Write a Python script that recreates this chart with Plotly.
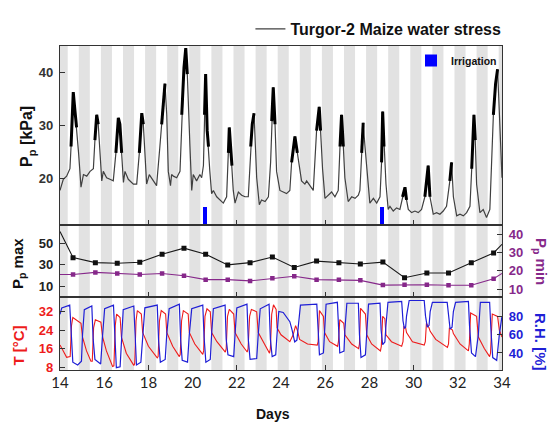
import plotly.graph_objects as go

# ---------------- data ----------------
# Turgor pressure of the Turgor-2 probe (days, kPa)
pp_t = [14.00, 14.15, 14.30, 14.38, 14.45, 14.50, 14.56, 14.60, 14.68, 14.75, 14.84, 14.90, 14.95,
        15.06, 15.21, 15.36, 15.51, 15.58, 15.66, 15.73, 15.81, 15.89, 15.96,
        16.11, 16.26, 16.41, 16.53, 16.64, 16.71, 16.79, 16.87, 16.94,
        17.09, 17.32, 17.47, 17.59, 17.70, 17.77, 17.85, 17.92,
        18.04, 18.22, 18.37, 18.52, 18.60, 18.75, 18.83, 18.87, 18.90, 19.00,
        19.05, 19.13, 19.28, 19.43, 19.51, 19.61, 19.69, 19.76, 19.88, 19.96,
        20.03, 20.18, 20.33, 20.41, 20.49, 20.54, 20.59, 20.66, 20.72, 20.78, 20.86, 20.94,
        21.09, 21.24, 21.39, 21.54, 21.62, 21.66, 21.72, 21.78, 21.84, 21.92,
        22.07, 22.22, 22.37, 22.52, 22.63, 22.70, 22.78, 22.84, 22.90,
        23.02, 23.12, 23.28, 23.43, 23.53, 23.58, 23.65, 23.73, 23.80, 23.95,
        24.10, 24.25, 24.40, 24.48, 24.56, 24.63, 24.74, 24.86, 24.93,
        25.08, 25.16, 25.31, 25.46, 25.61, 25.73, 25.79, 25.88, 25.99,
        26.14, 26.29, 26.44, 26.59, 26.67, 26.74, 26.82, 26.89,
        27.04, 27.20, 27.35, 27.50, 27.57, 27.65, 27.72, 27.80, 27.95,
        28.02, 28.18, 28.33, 28.48, 28.55, 28.60, 28.66, 28.75, 28.85, 28.93,
        29.08, 29.23, 29.38, 29.50, 29.61, 29.68, 29.76, 29.91,
        30.06, 30.21, 30.36, 30.51, 30.66, 30.74, 30.89,
        31.04, 31.19, 31.34, 31.49, 31.64, 31.72, 31.80, 31.95,
        32.10, 32.25, 32.40, 32.55, 32.63, 32.73, 32.79, 32.85,
        33.00, 33.15, 33.30, 33.45, 33.61, 33.71, 33.80, 33.88, 33.94, 34.00]
pp_v = [17.7, 19.8, 20.4, 21.3, 21.8, 26.0, 32.0, 36.3, 32.6, 29.6, 24.8, 21.3, 18.3,
        20.7, 20.4, 21.3, 21.8, 27.2, 32.0, 30.2, 24.8, 19.5, 21.3,
        20.1, 19.8, 19.5, 24.8, 31.4, 30.2, 24.8, 19.2, 21.3,
        19.8, 18.9, 18.9, 24.8, 32.3, 30.2, 23.6, 18.9,
        20.7, 19.5, 18.6, 26.0, 30.2, 37.9, 32.0, 26.0, 21.3, 18.6,
        20.7, 20.4, 20.1, 21.3, 32.0, 40.9, 44.6, 39.7, 26.0, 17.7,
        20.7, 19.5, 20.7, 20.1, 22.4, 32.0, 39.7, 29.0, 26.0, 21.3, 17.1, 17.7,
        16.5, 15.9, 15.3, 16.5, 24.8, 29.6, 26.0, 22.4, 17.7, 15.3,
        17.4, 16.8, 16.5, 16.5, 26.0, 30.2, 32.3, 27.2, 20.1,
        15.0, 15.9, 15.6, 16.5, 23.0, 30.8, 37.2, 30.2, 21.3, 17.7,
        17.4, 17.1, 17.7, 23.0, 26.0, 27.9, 24.8, 21.3, 19.5,
        18.9, 19.5, 18.6, 17.7, 29.0, 33.5, 29.0, 21.8, 16.2,
        16.8, 17.4, 16.5, 17.7, 26.0, 32.0, 26.0, 20.1,
        15.6, 16.5, 16.2, 16.8, 17.7, 24.8, 30.5, 26.0, 18.9,
        15.3, 16.2, 15.3, 16.5, 23.0, 32.6, 26.0, 18.9, 14.1, 14.7,
        13.8, 14.4, 14.1, 16.5, 18.3, 15.9, 14.1, 13.5,
        13.8, 13.5, 14.1, 16.5, 22.4, 16.5, 13.2,
        13.5, 13.2, 13.8, 14.7, 19.5, 23.0, 16.5, 12.9,
        13.2, 12.9, 13.5, 14.7, 21.8, 32.0, 27.2, 18.9,
        13.5, 14.1, 12.6, 14.1, 32.0, 37.9, 40.6, 32.0, 23.0, 20.1]

# irrigation events (days) and marker height (kPa)
irrig_day = [20.56, 28.57]
irrig_top = [14.5, 14.5]

# daily turgor extremes, plotted at the time of the daily peak
ext_day = [14.59, 15.60, 16.59, 17.61, 18.62, 19.61, 20.59, 21.59, 22.60, 23.61,
           24.60, 25.61, 26.62, 27.59, 28.61, 29.59, 30.60, 31.58, 32.61, 33.62]
pp_max = [36.7, 32.1, 31.5, 32.4, 39.9, 45.4, 39.9, 30.0, 32.1, 37.3,
          27.7, 33.5, 32.1, 30.9, 32.6, 18.2, 22.5, 22.5, 32.1, 41.0]
pp_min = [18.0, 19.2, 18.6, 18.0, 18.6, 17.3, 15.2, 15.2, 14.5, 15.9,
          17.1, 15.2, 15.2, 14.8, 12.2, 12.4, 12.4, 12.1, 12.1, 15.7]
# values where the lines leave the plotted window (days 14 and 34)
pp_max_edges = [60.8, 49.0]
pp_min_edges = [18.0, 18.6]

# air temperature (°C)
t_t = [14.00, 14.30, 14.46, 14.52, 14.58, 14.75, 14.95, 15.02, 15.20, 15.40,
       15.46, 15.52, 15.60, 15.85, 15.93, 16.10, 16.38,
       16.44, 16.50, 16.56, 16.72, 16.78, 17.00, 17.34,
       17.38, 17.44, 17.50, 17.68, 17.74, 18.00, 18.40,
       18.44, 18.50, 18.58, 18.78, 18.83, 19.10, 19.40,
       19.44, 19.50, 19.58, 19.80, 19.85, 20.10, 20.46,
       20.50, 20.56, 20.65, 20.80, 20.86, 21.10, 21.48,
       21.52, 21.58, 21.66, 21.86, 21.92, 22.20, 22.47,
       22.51, 22.58, 22.66, 22.90, 22.97, 23.20, 23.48,
       23.52, 23.58, 23.66, 23.78, 23.82, 24.00, 24.40,
       24.55, 24.66, 24.74, 24.84, 25.20, 25.64,
       25.68, 25.74, 25.92, 25.97, 26.20, 26.56,
       26.60, 26.66, 26.84, 26.89, 27.20, 27.51,
       27.55, 27.60, 27.82, 27.88, 28.10, 28.50,
       28.54, 28.60, 28.70, 28.75, 29.00, 29.46,
       29.52, 29.56, 29.64, 29.68, 29.95, 30.48,
       30.53, 30.58, 30.70, 30.75, 31.00, 31.53,
       31.58, 31.62, 31.76, 31.80, 32.10, 32.48,
       32.52, 32.58, 32.85, 32.93, 33.20, 33.44,
       33.48, 33.56, 33.80, 33.88, 34.00]
t_v = [17.6, 12.2, 12.5, 26.0, 29.5, 28.5, 27.0, 21.0, 15.0, 10.5,
       10.5, 25.0, 28.5, 27.5, 21.0, 15.0, 8.2,
       8.5, 26.0, 31.0, 29.5, 21.0, 14.0, 8.7,
       9.5, 28.0, 32.5, 31.0, 23.0, 17.0, 12.0,
       12.5, 28.0, 32.5, 31.0, 23.0, 17.0, 12.5,
       13.5, 28.0, 32.5, 31.0, 23.0, 18.0, 13.5,
       15.0, 30.0, 33.3, 32.0, 23.0, 19.0, 14.5,
       16.0, 30.0, 33.0, 31.0, 23.0, 18.0, 14.5,
       16.0, 30.0, 33.0, 32.0, 23.0, 19.0, 14.0,
       16.0, 31.0, 35.0, 33.0, 25.0, 22.0, 19.0,
       22.0, 26.0, 24.0, 20.0, 18.0, 17.5,
       19.0, 32.5, 30.0, 23.0, 19.0, 17.0,
       19.0, 28.6, 27.0, 22.0, 18.0, 16.0,
       18.0, 33.5, 31.0, 22.0, 18.0, 15.0,
       17.0, 30.0, 29.0, 22.0, 19.0, 17.0,
       19.0, 25.5, 25.0, 23.0, 19.0, 17.5,
       19.0, 27.0, 25.0, 23.5, 20.0, 16.5,
       18.0, 25.0, 24.0, 22.5, 18.0, 15.0,
       18.0, 31.5, 30.0, 21.0, 16.0, 12.5,
       14.0, 31.0, 30.0, 24.0, 21.0]

# relative humidity (%)
rh_t = [14.00, 14.08, 14.44, 14.52, 14.58, 14.80, 14.97, 15.02, 15.10, 15.44,
        15.50, 15.58, 15.84, 15.93, 16.02, 16.42, 16.48, 16.55, 16.72, 16.78,
        16.86, 17.34, 17.40, 17.46, 17.66, 17.74, 17.84, 18.40, 18.46, 18.54,
        18.76, 18.83, 18.94, 19.40, 19.46, 19.53, 19.77, 19.85, 19.96, 20.46,
        20.52, 20.60, 20.80, 20.86, 20.94, 21.47, 21.52, 21.60, 21.86, 21.92,
        22.00, 22.46, 22.52, 22.60, 22.90, 22.97, 23.06, 23.46, 23.52, 23.60,
        23.76, 23.82, 23.90, 24.10, 24.40, 24.50, 24.62, 24.72, 24.80, 24.88,
        25.62, 25.68, 25.74, 25.92, 25.97, 26.04, 26.55, 26.60, 26.66, 26.85,
        26.89, 26.98, 27.50, 27.55, 27.62, 27.82, 27.88, 27.96, 28.48, 28.53,
        28.60, 28.70, 28.75, 28.84, 29.46, 29.52, 29.58, 29.64, 29.68, 29.80,
        30.48, 30.54, 30.62, 30.70, 30.75, 30.85, 31.52, 31.58, 31.65, 31.74,
        31.80, 31.90, 32.48, 32.53, 32.62, 32.80, 32.93, 33.02, 33.44, 33.50,
        33.58, 33.76, 33.88, 34.00]
rh_v = [82, 89, 92, 55, 30, 27, 31, 60, 87, 91,
        55, 33, 28, 60, 88, 92, 50, 24, 25, 60,
        87, 91, 50, 27, 30, 60, 89, 92, 54, 30,
        33, 60, 88, 93, 54, 32, 30, 60, 88, 92,
        57, 30, 33, 60, 88, 92, 55, 38, 36, 60,
        89, 93, 55, 33, 34, 60, 88, 93, 55, 36,
        38, 60, 85, 84, 74, 65, 52, 54, 70, 92,
        93, 60, 38, 40, 65, 93, 95, 60, 40, 42,
        65, 94, 94, 60, 35, 38, 65, 93, 94, 65,
        49, 52, 70, 95, 96, 75, 67, 68, 80, 97,
        97, 80, 68, 70, 85, 95, 95, 78, 66, 68,
        85, 95, 96, 70, 40, 36, 60, 95, 95, 65,
        35, 32, 60, 80]

x_labels = list(range(14, 35, 2))
x_major = list(range(14, 35, 4))
night_days = list(range(14, 35))

# ---------------- styling ----------------
FONT = "Liberation Sans"
RED = "#ee1c1c"
BLUE = "#1f1fd6"
PURPLE = "#86288a"
AX = "#333333"

fig = go.Figure()

# Turgor time series: thin dark line, with the noisy daytime peaks drawn heavy
fig.add_trace(go.Scatter(x=pp_t, y=pp_v, mode="lines", name="Turgor-2 Maize water stress",
                         line=dict(color="#404040", width=1.2), xaxis="x", yaxis="y",
                         legend="legend"))
peak_x, peak_y = [], []
for t, v in zip(pp_t, pp_v):
    inside = False
    for tp, hi, lo in zip(ext_day, pp_max, pp_min):
        if abs(t - tp) <= 0.2 and v >= lo + 0.4 * (hi - lo):
            inside = True
    peak_x.append(t if inside else None)
    peak_y.append(v if inside else None)
fig.add_trace(go.Scatter(x=peak_x, y=peak_y, mode="lines", showlegend=False,
                         line=dict(color="black", width=3), connectgaps=False,
                         xaxis="x", yaxis="y", hoverinfo="skip"))

# irrigation markers
y_top_min = 11.07
fig.add_trace(go.Bar(x=irrig_day, y=[v - y_top_min for v in irrig_top], base=y_top_min,
                     width=0.17, marker=dict(color="#0000ff", line=dict(width=0)),
                     name="Irrigation", xaxis="x", yaxis="y", legend="legend2"))

# daily maximum / minimum
fig.add_trace(go.Scatter(x=[14.0] + ext_day + [34.0], y=[pp_max_edges[0]] + pp_max + [pp_max_edges[1]],
                         mode="lines", line=dict(color="#1a1a1a", width=1.1),
                         showlegend=False, xaxis="x2", yaxis="y2"))
fig.add_trace(go.Scatter(x=ext_day, y=pp_max, mode="markers",
                         marker=dict(symbol="square", size=5, color="#111111"),
                         showlegend=False, xaxis="x2", yaxis="y2"))
fig.add_trace(go.Scatter(x=[14.0] + ext_day + [34.0], y=[pp_min_edges[0]] + pp_min + [pp_min_edges[1]],
                         mode="lines", line=dict(color=PURPLE, width=1.1),
                         showlegend=False, xaxis="x2", yaxis="y4"))
fig.add_trace(go.Scatter(x=ext_day, y=pp_min, mode="markers",
                         marker=dict(symbol="square", size=4.5, color=PURPLE),
                         showlegend=False, xaxis="x2", yaxis="y4"))

# climate
fig.add_trace(go.Scatter(x=t_t, y=t_v, mode="lines", line=dict(color=RED, width=1.1),
                         showlegend=False, xaxis="x3", yaxis="y3"))
fig.add_trace(go.Scatter(x=rh_t, y=rh_v, mode="lines", line=dict(color=BLUE, width=1.2),
                         showlegend=False, xaxis="x3", yaxis="y5"))
# carrier for the day labels axis
fig.add_trace(go.Scatter(x=[None], y=[None], mode="lines", showlegend=False,
                         xaxis="x4", yaxis="y3", hoverinfo="skip"))

# night shading
shapes = []
for d in night_days:
    x0, x1 = max(14.0, d - 0.15), min(34.0, d + 0.35)
    if x1 > x0:
        shapes.append(dict(type="rect", xref="x", yref="paper", x0=x0, x1=x1, y0=0, y1=1,
                           fillcolor="#e2e2e2", line=dict(width=0), layer="below"))

D_BOT = [0.0, 0.2245]
D_MID = [0.2245, 0.446]
D_TOP = [0.446, 1.0]
X_RANGE = [14, 34]


def xax(anchor, **kw):
    base = dict(range=X_RANGE, anchor=anchor, domain=[0, 1], showgrid=False, zeroline=False,
                showline=True, mirror=True, linecolor=AX, linewidth=1.2,
                tickvals=x_major, ticks="inside", ticklen=5, tickcolor=AX,
                showticklabels=False)
    base.update(kw)
    return base


def yax(rng, dom, vals, color, side="left", **kw):
    base = dict(range=rng, domain=dom, showgrid=False, zeroline=False, side=side,
                showline=True, mirror=True, linecolor=AX, linewidth=1.2,
                tickvals=vals, ticks="inside", ticklen=5, tickcolor=AX,
                tickfont=dict(family=FONT, size=13, color=color, weight="bold"),
                ticklabelstandoff=3)
    base.update(kw)
    return base


fig.update_layout(
    width=553, height=430,
    margin=dict(l=60, r=51, t=27, b=60),
    paper_bgcolor="white", plot_bgcolor="rgba(0,0,0,0)",
    bargap=0,
    xaxis=xax("y"),
    xaxis2=xax("y2", matches="x"),
    xaxis3=xax("y3", matches="x"),
    xaxis4=dict(range=X_RANGE, overlaying="x3", anchor="y3", side="bottom", matches="x",
                showgrid=False, zeroline=False, showline=False, ticks="",
                tickvals=x_labels, ticktext=[str(v) for v in x_labels],
                tickfont=dict(family="Lato", size=15, color="#222222"), ticklabelstandoff=2),
    yaxis=yax([11.07, 45.0], D_TOP, [20, 30, 40], "#333333", anchor="x"),
    yaxis2=yax([0.2, 66.3], D_MID, [10, 30, 50], "#222222", anchor="x2"),
    yaxis4=yax([5.5, 45.0], D_MID, [10, 20, 30, 40], PURPLE, side="right",
               anchor="x2", overlaying="y2"),
    yaxis3=yax([6.7, 38.3], D_BOT, [8, 16, 24, 32], RED, anchor="x3"),
    yaxis5=yax([21.5, 100.5], D_BOT, [40, 60, 80], BLUE, side="right",
               anchor="x3", overlaying="y3"),
    shapes=shapes,
    legend=dict(x=1.01, xanchor="right", y=1.0, yanchor="bottom", bgcolor="rgba(0,0,0,0)",
                font=dict(family=FONT, size=16, color="#111111", weight="bold"),
                borderwidth=0, itemwidth=30),
    legend2=dict(x=1.0, xanchor="right", y=1.0, yanchor="top", bgcolor="rgba(0,0,0,0)",
                 font=dict(family=FONT, size=10.5, color="#111111", weight="bold"),
                 borderwidth=0, itemwidth=30),
    showlegend=True,
)

ann = []
def title(text, x, y, color, angle, size=15):
    ann.append(dict(text=text, xref="paper", yref="paper", x=x, y=y, showarrow=False,
                    textangle=angle, xanchor="center", yanchor="middle",
                    font=dict(family=FONT, size=size, color=color, weight="bold")))

title("P<sub>p</sub> [kPa]", -0.072, 0.72, "#111111", -90, 16)
title("P<sub>p</sub> max", -0.095, 0.327, "#111111", -90, 15)
title("T [°C]", -0.093, 0.075, RED, -90, 15)
title("P<sub>p</sub> min", 1.087, 0.335, PURPLE, 90, 15)
title("R.H. [%]", 1.087, 0.085, BLUE, 90, 15)
ann.append(dict(text="Days", xref="paper", yref="paper", x=0.482, y=-0.135, showarrow=False,
                xanchor="center", yanchor="middle",
                font=dict(family=FONT, size=14, color="#111111", weight="bold")))
fig.update_layout(annotations=ann)

fig.write_html("out.html")
